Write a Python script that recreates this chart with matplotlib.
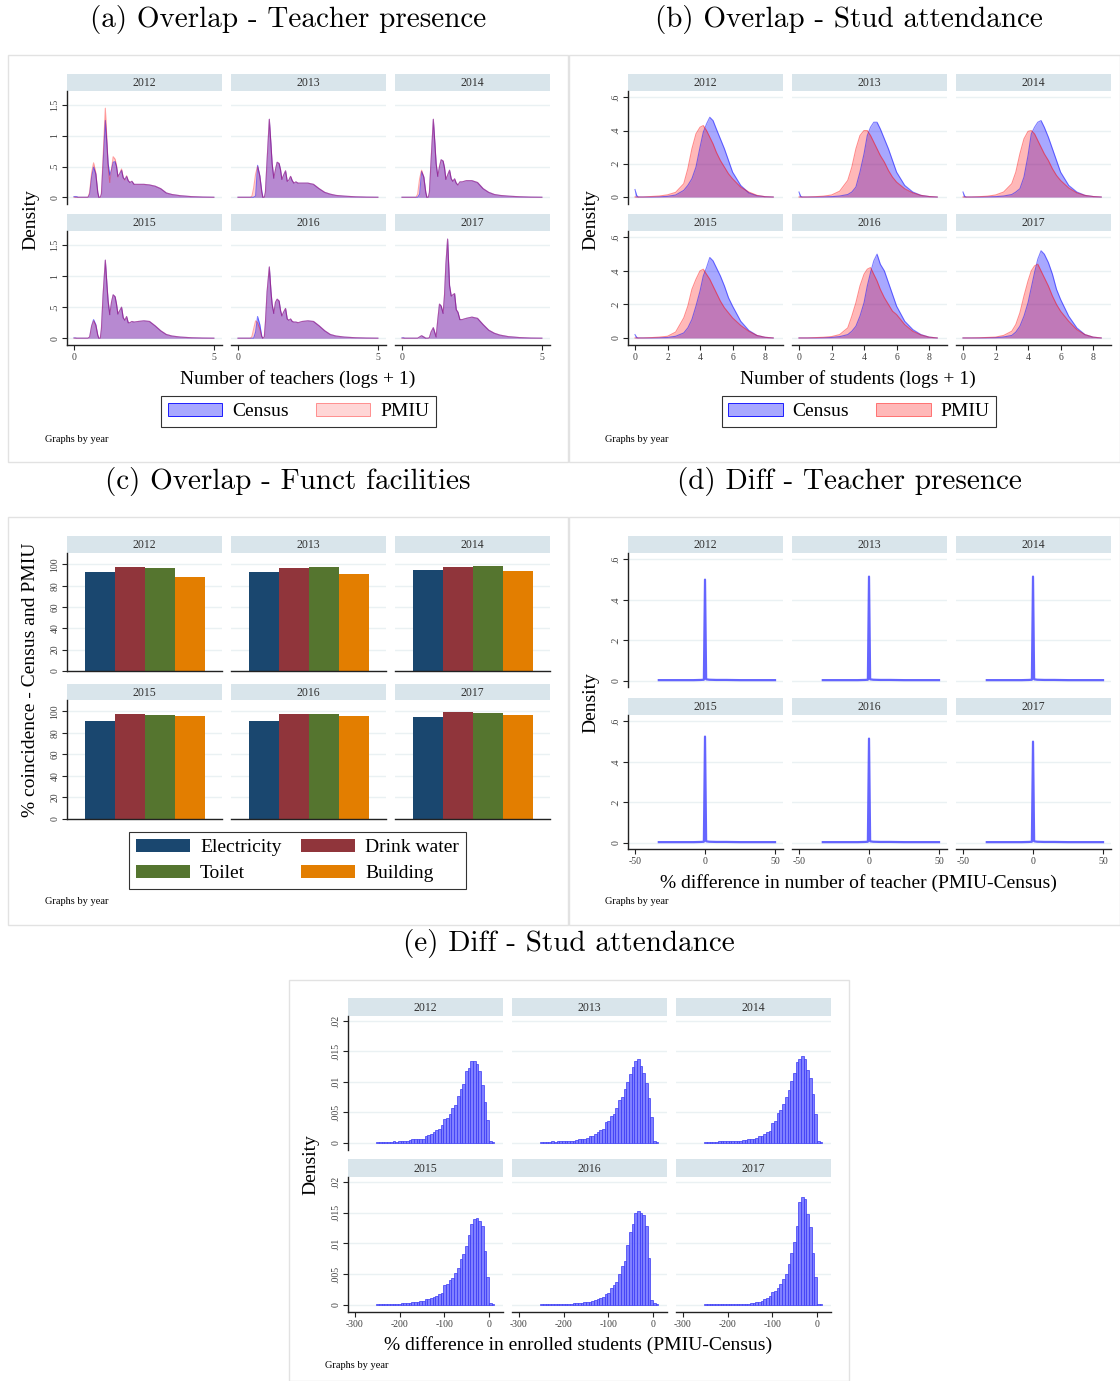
import matplotlib.pyplot as plt
from matplotlib.patches import Patch, Rectangle

plt.rcParams['font.family'] = ['Liberation Serif', 'DejaVu Serif']

W, H = 1120, 1381
years = [2012, 2013, 2014, 2015, 2016, 2017]

# ---- (a) teacher presence: kernel densities, log(teachers + 1)
a_x = [0.0, 0.05, 0.1, 0.15, 0.45, 0.5, 0.56, 0.63, 0.70, 0.78, 0.85, 0.89, 0.94, 0.98, 1.04,
       1.12, 1.18, 1.22, 1.28, 1.34, 1.40, 1.47, 1.52, 1.57, 1.63, 1.70, 1.76, 1.82, 1.88, 1.94,
       2.0, 2.07, 2.15, 2.3, 2.5, 2.7, 2.9, 3.1, 3.3, 3.5, 3.8, 4.2, 4.6, 5.0]
a_census_2012 = [0.01, 0.012, 0.01, 0, 0, 0, 0.05, 0.33, 0.49, 0.38, 0.08, 0, 0, 0.05, 0.55,
                 1.25, 0.85, 0.55, 0.36, 0.45, 0.57, 0.58, 0.50, 0.34, 0.38, 0.44, 0.32, 0.29, 0.34, 0.27,
                 0.24, 0.26, 0.21, 0.21, 0.21, 0.20, 0.18, 0.14, 0.07, 0.045, 0.025, 0.01, 0.003, 0]
a_pmiu_2012 = [0, 0, 0, 0, 0, 0, 0.08, 0.40, 0.56, 0.40, 0.08, 0, 0, 0.06, 0.65,
               1.45, 0.90, 0.50, 0.24, 0.45, 0.66, 0.62, 0.52, 0.33, 0.38, 0.46, 0.32, 0.28, 0.35, 0.27,
               0.24, 0.26, 0.21, 0.21, 0.21, 0.20, 0.18, 0.14, 0.07, 0.045, 0.025, 0.01, 0.003, 0]
a_census_2013 = [0, 0, 0, 0, 0, 0, 0, 0.02, 0.52, 0.35, 0.10, 0, 0, 0.08, 0.60,
                 1.27, 0.85, 0.55, 0.31, 0.45, 0.57, 0.55, 0.45, 0.29, 0.36, 0.43, 0.26, 0.28, 0.34, 0.27,
                 0.23, 0.25, 0.23, 0.23, 0.23, 0.21, 0.14, 0.08, 0.05, 0.03, 0.018, 0.007, 0.002, 0]
a_pmiu_2013 = [0, 0, 0, 0, 0, 0.02, 0.15, 0.38, 0.50, 0.35, 0.08, 0, 0, 0.08, 0.60,
               1.27, 0.85, 0.55, 0.31, 0.45, 0.57, 0.55, 0.45, 0.29, 0.36, 0.43, 0.26, 0.28, 0.34, 0.27,
               0.23, 0.25, 0.23, 0.23, 0.23, 0.21, 0.14, 0.08, 0.05, 0.03, 0.018, 0.007, 0.002, 0]
a_census_2014 = [0, 0, 0, 0, 0, 0, 0, 0.05, 0.42, 0.33, 0.08, 0, 0, 0.08, 0.60,
                 1.27, 0.85, 0.55, 0.34, 0.50, 0.61, 0.59, 0.48, 0.29, 0.36, 0.44, 0.30, 0.26, 0.30, 0.23,
                 0.20, 0.25, 0.25, 0.27, 0.27, 0.24, 0.14, 0.08, 0.045, 0.03, 0.018, 0.008, 0.002, 0]
a_pmiu_2014 = [0, 0, 0, 0, 0, 0, 0.05, 0.30, 0.44, 0.33, 0.08, 0, 0, 0.08, 0.60,
               1.27, 0.85, 0.55, 0.34, 0.50, 0.61, 0.59, 0.48, 0.29, 0.36, 0.44, 0.30, 0.26, 0.30, 0.23,
               0.20, 0.25, 0.25, 0.27, 0.27, 0.24, 0.14, 0.08, 0.045, 0.03, 0.018, 0.008, 0.002, 0]
a_census_2015 = [0.005, 0.005, 0, 0, 0, 0, 0.02, 0.20, 0.30, 0.22, 0.05, 0, 0, 0.15, 0.70,
                 1.26, 0.85, 0.60, 0.38, 0.58, 0.70, 0.67, 0.55, 0.39, 0.44, 0.50, 0.33, 0.29, 0.35, 0.25,
                 0.25, 0.27, 0.26, 0.27, 0.28, 0.27, 0.20, 0.12, 0.06, 0.035, 0.018, 0.007, 0.002, 0]
a_pmiu_2015 = [0, 0, 0, 0, 0, 0, 0.02, 0.19, 0.28, 0.21, 0.05, 0, 0, 0.15, 0.70,
               1.26, 0.85, 0.60, 0.38, 0.58, 0.70, 0.67, 0.55, 0.39, 0.44, 0.50, 0.33, 0.29, 0.35, 0.25,
               0.25, 0.27, 0.26, 0.27, 0.28, 0.27, 0.20, 0.12, 0.06, 0.035, 0.018, 0.007, 0.002, 0]
a_census_2016 = [0, 0, 0, 0, 0, 0, 0, 0.10, 0.35, 0.22, 0.03, 0, 0.02, 0.25, 0.75,
                 1.15, 0.75, 0.55, 0.40, 0.58, 0.63, 0.60, 0.45, 0.36, 0.42, 0.48, 0.31, 0.29, 0.31, 0.27,
                 0.26, 0.26, 0.25, 0.27, 0.28, 0.27, 0.20, 0.12, 0.06, 0.035, 0.018, 0.007, 0.002, 0]
a_pmiu_2016 = [0, 0, 0, 0, 0, 0.03, 0.15, 0.28, 0.25, 0.15, 0.03, 0, 0.02, 0.25, 0.75,
               1.15, 0.75, 0.55, 0.40, 0.58, 0.63, 0.60, 0.45, 0.36, 0.42, 0.48, 0.31, 0.29, 0.31, 0.27,
               0.26, 0.26, 0.25, 0.27, 0.28, 0.27, 0.20, 0.12, 0.06, 0.035, 0.018, 0.007, 0.002, 0]
a_census_2017 = [0.005, 0.008, 0, 0, 0, 0, 0, 0.02, 0.04, 0.02, 0, 0, 0, 0.01, 0.10,
                 0.17, 0.08, 0.02, 0.30, 0.55, 0.52, 0.40, 0.70, 1.20, 1.60, 0.85, 0.68, 0.70, 0.72, 0.46,
                 0.42, 0.30, 0.30, 0.32, 0.34, 0.32, 0.22, 0.13, 0.08, 0.05, 0.025, 0.01, 0.002, 0]
a_pmiu_2017 = [0, 0, 0, 0, 0, 0, 0, 0.02, 0.04, 0.02, 0, 0, 0, 0.01, 0.10,
               0.17, 0.08, 0.02, 0.30, 0.55, 0.52, 0.40, 0.70, 1.20, 1.60, 0.85, 0.68, 0.70, 0.72, 0.46,
               0.42, 0.30, 0.30, 0.32, 0.34, 0.32, 0.22, 0.13, 0.08, 0.05, 0.025, 0.01, 0.002, 0]

# ---- (b) student attendance: kernel densities, log(students + 1)
b_x = [0, 0.1, 0.2, 0.5, 1.0, 1.5, 2.0, 2.5, 3.0, 3.25, 3.5, 3.75, 4.0, 4.2, 4.4, 4.6, 4.8,
       5.0, 5.25, 5.5, 5.75, 6.0, 6.5, 7.0, 7.5, 8.0, 8.5]
b_census_2012 = [0.045, 0.01, 0, 0, 0, 0.001, 0.004, 0.012, 0.04, 0.07, 0.11, 0.18, 0.30, 0.39, 0.44, 0.48, 0.46,
                 0.41, 0.35, 0.29, 0.22, 0.15, 0.07, 0.025, 0.008, 0.002, 0]
b_pmiu_2012 = [0, 0, 0, 0, 0.003, 0.006, 0.013, 0.028, 0.08, 0.17, 0.29, 0.38, 0.42, 0.43, 0.40, 0.36, 0.32,
               0.27, 0.22, 0.18, 0.14, 0.11, 0.06, 0.03, 0.01, 0.002, 0]
b_census_2013 = [0.03, 0.005, 0, 0, 0, 0.001, 0.002, 0.006, 0.015, 0.03, 0.06, 0.15, 0.26, 0.37, 0.42, 0.45, 0.45,
                 0.41, 0.35, 0.29, 0.22, 0.15, 0.07, 0.03, 0.01, 0.003, 0]
b_pmiu_2013 = [0, 0, 0, 0, 0.002, 0.005, 0.012, 0.035, 0.10, 0.18, 0.29, 0.37, 0.40, 0.40, 0.37, 0.33, 0.29,
               0.25, 0.21, 0.16, 0.12, 0.09, 0.05, 0.025, 0.01, 0.003, 0]
b_census_2014 = [0.03, 0.005, 0, 0, 0, 0.001, 0.002, 0.006, 0.015, 0.03, 0.05, 0.12, 0.25, 0.38, 0.42, 0.45, 0.46,
                 0.42, 0.36, 0.29, 0.22, 0.15, 0.07, 0.03, 0.01, 0.003, 0]
b_pmiu_2014 = [0, 0, 0, 0, 0.002, 0.005, 0.012, 0.03, 0.08, 0.15, 0.26, 0.35, 0.395, 0.40, 0.38, 0.34, 0.30,
               0.26, 0.22, 0.17, 0.13, 0.10, 0.055, 0.025, 0.01, 0.003, 0]
b_census_2015 = [0.02, 0.004, 0, 0, 0, 0.001, 0.003, 0.01, 0.03, 0.06, 0.11, 0.19, 0.28, 0.37, 0.42, 0.48, 0.46,
                 0.42, 0.37, 0.31, 0.24, 0.19, 0.10, 0.045, 0.015, 0.004, 0]
b_pmiu_2015 = [0, 0, 0, 0, 0.002, 0.005, 0.01, 0.035, 0.12, 0.19, 0.29, 0.35, 0.40, 0.41, 0.38, 0.35, 0.31,
               0.27, 0.22, 0.18, 0.15, 0.12, 0.075, 0.04, 0.015, 0.004, 0]
b_census_2016 = [0, 0, 0, 0, 0, 0.001, 0.003, 0.008, 0.02, 0.04, 0.07, 0.13, 0.21, 0.31, 0.39, 0.46, 0.50,
                 0.44, 0.40, 0.33, 0.26, 0.19, 0.10, 0.05, 0.02, 0.005, 0]
b_pmiu_2016 = [0, 0, 0, 0, 0.002, 0.004, 0.008, 0.02, 0.06, 0.13, 0.21, 0.31, 0.38, 0.41, 0.42, 0.38, 0.34,
               0.29, 0.24, 0.20, 0.16, 0.14, 0.08, 0.04, 0.018, 0.005, 0]
b_census_2017 = [0, 0, 0, 0, 0, 0.001, 0.002, 0.006, 0.015, 0.035, 0.07, 0.13, 0.21, 0.30, 0.39, 0.47, 0.52,
                 0.50, 0.45, 0.38, 0.29, 0.23, 0.13, 0.06, 0.02, 0.005, 0]
b_pmiu_2017 = [0, 0, 0, 0, 0.001, 0.003, 0.005, 0.015, 0.04, 0.08, 0.15, 0.25, 0.34, 0.40, 0.43, 0.44, 0.40,
               0.36, 0.31, 0.25, 0.20, 0.16, 0.10, 0.05, 0.02, 0.005, 0]

# ---- (c) functional facilities: % coincidence Census vs PMIU
c_facilities = ['Electricity', 'Drink water', 'Toilet', 'Building']
c_2012 = [92.5, 97.5, 96.6, 88.4]
c_2013 = [92.8, 96.5, 97.5, 91.0]
c_2014 = [94.7, 97.5, 98.4, 93.7]
c_2015 = [90.7, 98.0, 97.0, 95.4]
c_2016 = [91.0, 97.5, 97.5, 95.5]
c_2017 = [94.4, 99.0, 98.5, 96.5]

# ---- (d) % difference in number of teachers (density)
d_x = [-33, -25, -15, -8, -3, -0.8, 0, 0.8, 3, 8, 15, 25, 35, 42, 50]
d_2012 = [0.002, 0.002, 0.002, 0.002, 0.003, 0.004, 0.50, 0.006, 0.004, 0.003, 0.003, 0.002, 0.002, 0.002, 0.002]
d_2013 = [0.002, 0.002, 0.002, 0.002, 0.003, 0.004, 0.515, 0.006, 0.004, 0.003, 0.003, 0.002, 0.002, 0.002, 0.002]
d_2014 = [0.002, 0.002, 0.002, 0.002, 0.003, 0.004, 0.515, 0.006, 0.004, 0.003, 0.003, 0.002, 0.002, 0.002, 0.002]
d_2015 = [0.002, 0.002, 0.002, 0.002, 0.003, 0.004, 0.525, 0.006, 0.004, 0.003, 0.003, 0.002, 0.002, 0.002, 0.002]
d_2016 = [0.002, 0.002, 0.002, 0.002, 0.003, 0.004, 0.515, 0.006, 0.004, 0.003, 0.003, 0.002, 0.002, 0.002, 0.002]
d_2017 = [0.002, 0.002, 0.002, 0.002, 0.003, 0.004, 0.50, 0.006, 0.004, 0.003, 0.003, 0.002, 0.002, 0.002, 0.002]

# ---- (e) % difference in enrolled students (histogram, bin width 6)
e_centers = [-249, -243, -237, -231, -225, -219, -213, -207, -201, -195,
             -189, -183, -177, -171, -165, -159, -153, -147, -141, -135,
             -129, -123, -117, -111, -105, -99, -93, -87, -81, -75,
             -69, -63, -57, -51, -45, -39, -33, -27, -21, -15,
             -9, -3, 3, 9]
e_2012 = [0.0002, 0.0002, 0.0002, 0.0002, 0.0002, 0.0002, 0.0003, 0.0002, 0.0003, 0.0004,
          0.0004, 0.0004, 0.0005, 0.0006, 0.0006, 0.0007, 0.0007, 0.0007, 0.0011, 0.0013,
          0.0015, 0.0018, 0.0022, 0.0023, 0.0030, 0.0039, 0.0041, 0.0048, 0.0058, 0.0063,
          0.0077, 0.0088, 0.0096, 0.0118, 0.0123, 0.0135, 0.0135, 0.0129, 0.0118, 0.0095,
          0.0067, 0.0037, 0.0004, 0.0001]
e_2013 = [0.0002, 0.0002, 0.0002, 0.0002, 0.0003, 0.0002, 0.0003, 0.0003, 0.0003, 0.0003,
          0.0003, 0.0004, 0.0004, 0.0005, 0.0006, 0.0007, 0.0007, 0.0008, 0.0011, 0.0012,
          0.0015, 0.0018, 0.0021, 0.0023, 0.0035, 0.0036, 0.0044, 0.0048, 0.0057, 0.0070,
          0.0076, 0.0089, 0.0100, 0.0113, 0.0124, 0.0134, 0.0138, 0.0126, 0.0114, 0.0098,
          0.0073, 0.0043, 0.0003, 0.0002]
e_2014 = [0.0002, 0.0002, 0.0002, 0.0002, 0.0002, 0.0003, 0.0003, 0.0003, 0.0003, 0.0003,
          0.0003, 0.0003, 0.0004, 0.0004, 0.0005, 0.0005, 0.0006, 0.0007, 0.0007, 0.0008,
          0.0011, 0.0012, 0.0015, 0.0018, 0.0019, 0.0033, 0.0036, 0.0049, 0.0054, 0.0064,
          0.0075, 0.0087, 0.0102, 0.0114, 0.0133, 0.0138, 0.0142, 0.0138, 0.0120, 0.0106,
          0.0081, 0.0047, 0.0003, 0.0001]
e_2015 = [0.0001, 0.0001, 0.0001, 0.0001, 0.0002, 0.0002, 0.0002, 0.0002, 0.0002, 0.0003,
          0.0003, 0.0003, 0.0003, 0.0004, 0.0004, 0.0005, 0.0006, 0.0007, 0.0009, 0.0009,
          0.0012, 0.0013, 0.0014, 0.0018, 0.0020, 0.0033, 0.0034, 0.0040, 0.0044, 0.0052,
          0.0060, 0.0074, 0.0082, 0.0096, 0.0114, 0.0132, 0.0140, 0.0141, 0.0136, 0.0128,
          0.0088, 0.0046, 0.0003, 0.0001]
e_2016 = [0.0001, 0.0001, 0.0001, 0.0001, 0.0001, 0.0001, 0.0002, 0.0002, 0.0002, 0.0002,
          0.0002, 0.0002, 0.0003, 0.0003, 0.0003, 0.0003, 0.0004, 0.0004, 0.0005, 0.0006,
          0.0008, 0.0009, 0.0011, 0.0013, 0.0017, 0.0019, 0.0028, 0.0033, 0.0038, 0.0050,
          0.0064, 0.0072, 0.0098, 0.0118, 0.0131, 0.0150, 0.0153, 0.0150, 0.0146, 0.0128,
          0.0077, 0.0008, 0.0003, 0.0001]
e_2017 = [0.0001, 0.0001, 0.0001, 0.0001, 0.0001, 0.0002, 0.0002, 0.0002, 0.0002, 0.0002,
          0.0002, 0.0002, 0.0002, 0.0002, 0.0002, 0.0002, 0.0002, 0.0003, 0.0003, 0.0004,
          0.0005, 0.0007, 0.0009, 0.0011, 0.0014, 0.0021, 0.0022, 0.0028, 0.0034, 0.0042,
          0.0051, 0.0066, 0.0085, 0.0103, 0.0128, 0.0167, 0.0175, 0.0172, 0.0148, 0.0127,
          0.0084, 0.0045, 0.0002, 0.0001]

# ---- styling
STRIP = '#d9e5eb'
GRID = '#eaf1f3'
TICKC = '#404040'
CENSUS = '#0000ff'
PMIU = '#ff0000'
FAC_COLORS = ['#1a476f', '#90353b', '#55752f', '#e37e00']
TITLE_FONT = ['cmr10', 'DejaVu Serif']
TITLE_SIZE = 21
LABEL_SIZE = 14

fig = plt.figure(figsize=(W / 100, H / 100), dpi=100)


def box(x0, y0, x1, y1):
    return [x0 / W, 1 - y1 / H, (x1 - x0) / W, (y1 - y0) / H]


def ftext(x, y, s, **kw):
    fig.text(x / W, 1 - y / H, s, **kw)


def frame(x0, y0, x1, y1):
    fig.add_artist(Rectangle((x0 / W, 1 - y1 / H), (x1 - x0) / W, (y1 - y0) / H,
                             transform=fig.transFigure, fill=False, ec='#e2e2e2', lw=1))


def facets(cols, rows, xlim, ylim, yticks, ylabels, xticks=None, xlabels=None, all_bottom=False):
    axes = []
    for r, (s0, s1, p1) in enumerate(rows):
        for c, (x0, x1) in enumerate(cols):
            yr = years[r * 3 + c]
            sax = fig.add_axes(box(x0, s0, x1, s1))
            sax.set_facecolor(STRIP)
            sax.set_xticks([])
            sax.set_yticks([])
            for sp in sax.spines.values():
                sp.set_visible(False)
            sax.text(0.5, 0.45, str(yr), ha='center', va='center', fontsize=8.5, color='#333333',
                     transform=sax.transAxes)
            ax = fig.add_axes(box(x0, s1, x1, p1))
            ax.set_xlim(xlim)
            ax.set_ylim(ylim)
            ax.patch.set_alpha(0)
            for s in ['top', 'right']:
                ax.spines[s].set_visible(False)
            left = c == 0
            bottom = r == len(rows) - 1
            ax.spines['left'].set_visible(left)
            ax.spines['bottom'].set_visible(bottom or all_bottom)
            for s in ['left', 'bottom']:
                ax.spines[s].set_linewidth(1.0)
                ax.spines[s].set_color('#222222')
            for t in yticks:
                ax.axhline(t, color=GRID, lw=1.0, zorder=0)
            if left:
                ax.set_yticks(yticks, ylabels, rotation=90, va='center', fontsize=7, color=TICKC)
                ax.tick_params(axis='y', length=3.5, width=0.8, pad=2, color='#222222')
            else:
                ax.set_yticks([])
            if bottom and xticks is not None:
                ax.set_xticks(xticks, xlabels, fontsize=7, color=TICKC)
                ax.tick_params(axis='x', length=3.5, width=0.8, pad=2, color='#222222')
            else:
                ax.set_xticks([])
            axes.append(ax)
    return axes


left_cols = [(67, 222), (231, 386), (395, 550)]
right_cols = [(628, 783), (792, 947), (956, 1111)]
e_cols = [(348, 503), (512, 667), (676, 831)]
top_rows = [(74, 91, 204), (214, 231, 345)]
mid_rows_c = [(536, 553, 671), (684, 700, 819)]
mid_rows_d = [(536, 553, 687), (698, 715, 849)]
e_rows = [(998, 1016, 1150), (1159, 1177, 1312)]

legend_kw = dict(loc='center', fancybox=False, edgecolor='black', fontsize=LABEL_SIZE, handlelength=2.8,
                 handleheight=0.7, borderpad=0.35, handletextpad=0.5)

# ---------------- (a)
frame(8, 55, 568, 462)
ftext(288, 19, '(a) Overlap - Teacher presence', ha='center', va='center', fontsize=TITLE_SIZE, family=TITLE_FONT)
a_census = [a_census_2012, a_census_2013, a_census_2014, a_census_2015, a_census_2016, a_census_2017]
a_pmiu = [a_pmiu_2012, a_pmiu_2013, a_pmiu_2014, a_pmiu_2015, a_pmiu_2016, a_pmiu_2017]
axs = facets(left_cols, top_rows, (-0.25, 5.29), (-0.11, 1.73), [0, 0.5, 1, 1.5], ['0', '.5', '1', '1.5'],
             [0, 5], ['0', '5'])
for ax, yc, yp in zip(axs, a_census, a_pmiu):
    ax.fill_between(a_x, yc, color=CENSUS, alpha=0.34, lw=0)
    ax.plot(a_x, yc, color=CENSUS, alpha=0.5, lw=0.8)
    ax.fill_between(a_x, yp, color=PMIU, alpha=0.18, lw=0)
    ax.plot(a_x, yp, color=PMIU, alpha=0.35, lw=0.8)
ftext(298, 379, 'Number of teachers (logs + 1)', ha='center', va='center', fontsize=LABEL_SIZE)
ftext(31, 220, 'Density', ha='center', va='center', fontsize=LABEL_SIZE, rotation=90)
ftext(45, 440, 'Graphs by year', ha='left', va='center', fontsize=7.5)
leg = fig.legend([Patch(fc=(0.66, 0.66, 1.0), ec=CENSUS, lw=0.6), Patch(fc=(1.0, 0.84, 0.84), ec='#ff8080', lw=0.6)],
                 ['Census', 'PMIU'], bbox_to_anchor=(298.5 / W, 1 - 411.5 / H), ncol=2,
                 columnspacing=1.4, **legend_kw)
leg.get_frame().set_linewidth(0.8)

# ---------------- (b)
frame(569, 55, 1120, 462)
ftext(849, 19, '(b) Overlap - Stud attendance', ha='center', va='center', fontsize=TITLE_SIZE, family=TITLE_FONT)
b_census = [b_census_2012, b_census_2013, b_census_2014, b_census_2015, b_census_2016, b_census_2017]
b_pmiu = [b_pmiu_2012, b_pmiu_2013, b_pmiu_2014, b_pmiu_2015, b_pmiu_2016, b_pmiu_2017]
axs = facets(right_cols, top_rows, (-0.43, 9.1), (-0.042, 0.638), [0, 0.2, 0.4, 0.6], ['0', '.2', '.4', '.6'],
             [0, 2, 4, 6, 8], ['0', '2', '4', '6', '8'])
for ax, yc, yp in zip(axs, b_census, b_pmiu):
    ax.fill_between(b_x, yc, color=CENSUS, alpha=0.34, lw=0)
    ax.plot(b_x, yc, color=CENSUS, alpha=0.5, lw=0.8)
    ax.fill_between(b_x, yp, color=PMIU, alpha=0.28, lw=0)
    ax.plot(b_x, yp, color=PMIU, alpha=0.45, lw=0.8)
ftext(858, 379, 'Number of students (logs + 1)', ha='center', va='center', fontsize=LABEL_SIZE)
ftext(591, 220, 'Density', ha='center', va='center', fontsize=LABEL_SIZE, rotation=90)
ftext(605, 440, 'Graphs by year', ha='left', va='center', fontsize=7.5)
leg = fig.legend([Patch(fc=(0.66, 0.66, 1.0), ec=CENSUS, lw=0.6), Patch(fc=(1.0, 0.72, 0.72), ec='#ff6060', lw=0.6)],
                 ['Census', 'PMIU'], bbox_to_anchor=(859 / W, 1 - 411.5 / H), ncol=2,
                 columnspacing=1.4, **legend_kw)
leg.get_frame().set_linewidth(0.8)

# ---------------- (c)
frame(8, 517, 568, 925)
ftext(288, 482, '(c) Overlap - Funct facilities', ha='center', va='center', fontsize=TITLE_SIZE, family=TITLE_FONT)
c_vals = [c_2012, c_2013, c_2014, c_2015, c_2016, c_2017]
axs = facets(left_cols, mid_rows_c, (-1.1, 4.07), (0, 110.6), [0, 20, 40, 60, 80, 100],
             ['0', '20', '40', '60', '80', '100'], all_bottom=True)
for ax, vals in zip(axs, c_vals):
    ax.bar(range(len(vals)), vals, width=1.0, color=FAC_COLORS, zorder=2)
ftext(31, 680, '% coincidence - Census and PMIU', ha='center', va='center', fontsize=LABEL_SIZE, rotation=90)
ftext(45, 902, 'Graphs by year', ha='left', va='center', fontsize=7.5)
hs = [Patch(fc=col, ec='none') for col in FAC_COLORS]
leg = fig.legend([hs[0], hs[2], hs[1], hs[3]], [c_facilities[0], c_facilities[2], c_facilities[1], c_facilities[3]],
                 bbox_to_anchor=(297.5 / W, 1 - 860.5 / H), ncol=2, columnspacing=1.0, labelspacing=0.45,
                 **legend_kw)
leg.get_frame().set_linewidth(0.8)

# ---------------- (d)
frame(569, 517, 1120, 925)
ftext(849, 482, '(d) Diff - Teacher presence', ha='center', va='center', fontsize=TITLE_SIZE, family=TITLE_FONT)
d_vals = [d_2012, d_2013, d_2014, d_2015, d_2016, d_2017]
axs = facets(right_cols, mid_rows_d, (-55, 55.7), (-0.032, 0.632), [0, 0.2, 0.4, 0.6], ['0', '.2', '.4', '.6'],
             [-50, 0, 50], ['-50', '0', '50'])
for ax, vals in zip(axs, d_vals):
    ax.plot(d_x, vals, color='#4a4aff', alpha=0.85, lw=1.6)
ftext(858, 883, '% difference in number of teacher (PMIU-Census)', ha='center', va='center', fontsize=LABEL_SIZE)
ftext(591, 703, 'Density', ha='center', va='center', fontsize=LABEL_SIZE, rotation=90)
ftext(605, 902, 'Graphs by year', ha='left', va='center', fontsize=7.5)

# ---------------- (e)
frame(289, 980, 849, 1381)
ftext(569, 944, '(e) Diff - Stud attendance', ha='center', va='center', fontsize=TITLE_SIZE, family=TITLE_FONT)
e_vals = [e_2012, e_2013, e_2014, e_2015, e_2016, e_2017]
axs = facets(e_cols, e_rows, (-315.7, 31.3), (-0.00115, 0.0208), [0, 0.005, 0.01, 0.015, 0.02],
             ['0', '.005', '.01', '.015', '.02'], [-300, -200, -100, 0], ['-300', '-200', '-100', '0'])
for ax, vals in zip(axs, e_vals):
    ax.bar(e_centers, vals, width=6, color='#6a6aff', alpha=0.85, edgecolor='#3c3cf5', lw=0.6, zorder=2)
ftext(578, 1345, '% difference in enrolled students (PMIU-Census)', ha='center', va='center', fontsize=LABEL_SIZE)
ftext(311, 1165, 'Density', ha='center', va='center', fontsize=LABEL_SIZE, rotation=90)
ftext(325, 1365, 'Graphs by year', ha='left', va='center', fontsize=7.5)

fig.savefig('out.png', dpi=100)
